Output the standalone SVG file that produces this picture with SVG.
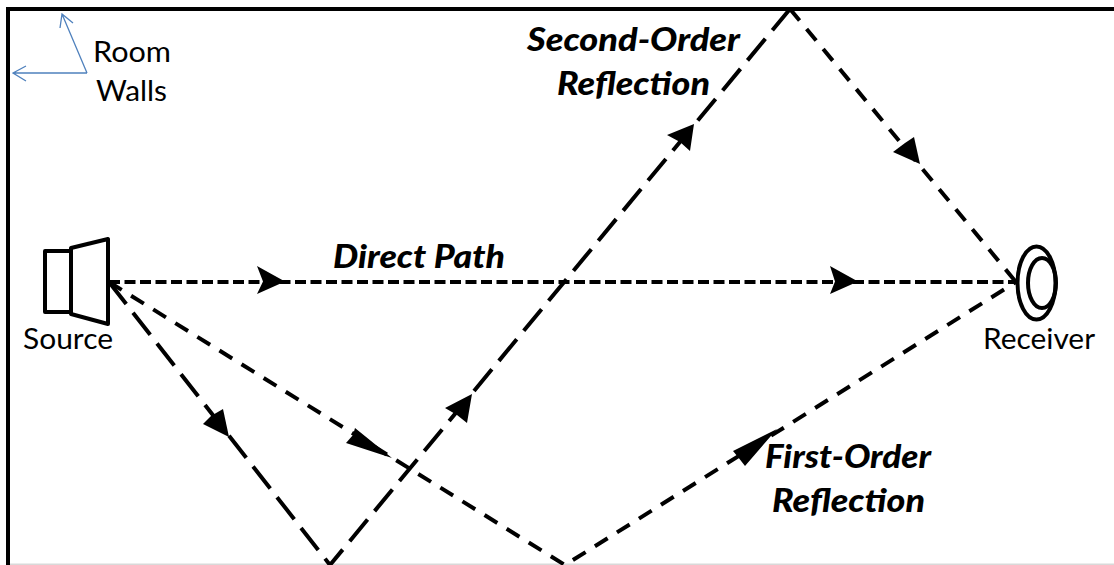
<svg xmlns="http://www.w3.org/2000/svg" width="1114" height="565" viewBox="0 0 1114 565">
<style>
text{font-family:Lato,"Open Sans",sans-serif;fill:#000}
.l{font-size:29px}
.b{font-size:32px;font-weight:900;font-style:italic}
.d{fill:none;stroke:#000;stroke-width:4}
.a{stroke-dasharray:11 4.5}
.s{stroke-dasharray:15 11}
.g{stroke-dasharray:28 11}
.w{fill:none;stroke:#000;stroke-width:4}
.h{fill:#000}
.n{fill:#fff;stroke:#000;stroke-width:4;stroke-linejoin:round}
.r{fill:none;stroke:#4f81bd;stroke-width:1.3}
</style>
<rect width="1114" height="565" fill="#fff"/>
<g id="room"><path d="M10 564.2H1114" stroke="#d9d9d9" stroke-width="1.6"/><path d="M8 565V9H1114" class="w"/></g>
<g id="connectors">
<path class="d a" d="M109 282H1016"/>
<path class="d s" d="M109 282L565 565L1016 282"/>
<path class="d g" d="M109 282L330 565L790 9"/>
<path class="d s" d="M790 9L1016 282"/>
<path class="h" d="M285 281.500L257 266L263 281.500L257 294Z"/>
<path class="h" d="M858 281.500L830 266L835 281.500L830 294Z"/>
<path class="h" d="M229 437L203 424L211 416L223 409Z"/>
<path class="h" d="M392 458L355 428L353 435L346 443Z"/>
<path class="h" d="M472 394L445 408L457 415L467 423Z"/>
<path class="h" d="M694 124L667 135L680 142L690 151Z"/>
<path class="h" d="M920 164L893 152L905 143L914 137Z"/>
<path class="h" d="M777 429L733 451L738 457L745 466Z"/>
<path class="r" d="M87 73L62 14M73 23L62 14L60 28M87 73H13M26 66L13 73L26 81"/>
</g>
<g id="source"><path class="n" d="M45 251H71V312H45Z"/><path class="n" d="M71 248L108 239V324L71 314Z"/><text class="l" x="23" y="349" textLength="90" lengthAdjust="spacingAndGlyphs">Source</text></g>
<g id="receiver"><ellipse class="n" cx="1036.500" cy="283" rx="19" ry="36.500"/><ellipse class="w" cx="1042" cy="283" rx="14" ry="25"/><text class="l" x="983" y="349" textLength="112" lengthAdjust="spacingAndGlyphs">Receiver</text></g>
<g id="labels">
<text class="l" x="93" y="62" textLength="78" lengthAdjust="spacingAndGlyphs">Room</text>
<text class="l" x="96" y="101" textLength="71" lengthAdjust="spacingAndGlyphs">Walls</text>
<text class="b" x="333" y="268" textLength="172" lengthAdjust="spacingAndGlyphs">Direct Path</text>
<text class="b" x="527" y="51" textLength="213" lengthAdjust="spacingAndGlyphs">Second-Order</text>
<text class="b" x="557" y="95" textLength="153" lengthAdjust="spacingAndGlyphs">Reflection</text>
<text class="b" x="765" y="468" textLength="166" lengthAdjust="spacingAndGlyphs">First-Order</text>
<text class="b" x="772" y="512" textLength="153" lengthAdjust="spacingAndGlyphs">Reflection</text>
</g>
</svg>
